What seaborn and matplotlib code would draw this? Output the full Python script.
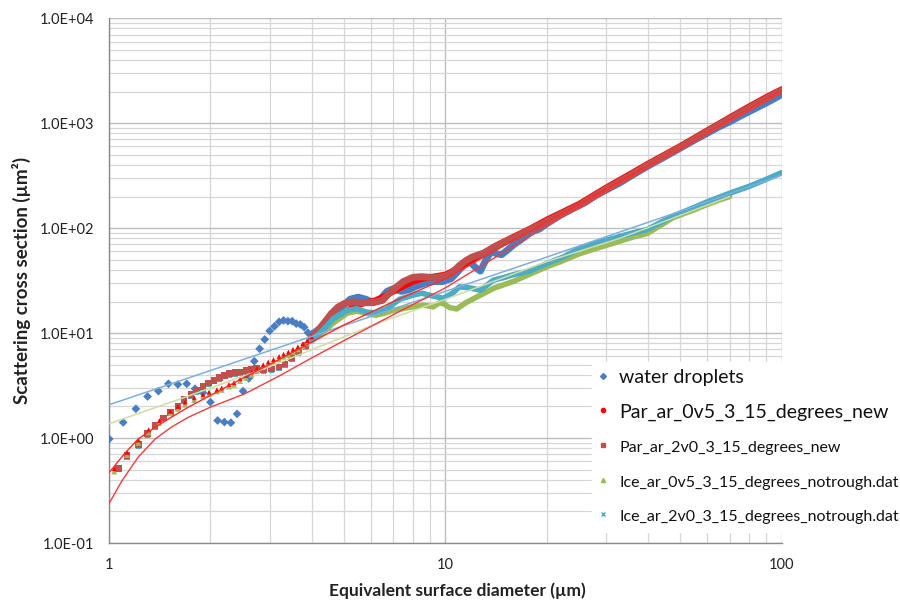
import matplotlib
matplotlib.use("Agg")
import matplotlib.pyplot as plt
import seaborn as sns
from matplotlib.ticker import FuncFormatter, LogLocator, NullFormatter
from matplotlib.lines import Line2D

# ---- data (x in um, y in um^2) ----
# discrete markers, small sizes
water_x = [1.0, 1.1, 1.2, 1.3, 1.4, 1.5, 1.6, 1.7, 1.8, 1.9, 2.0, 2.1, 2.2, 2.3, 2.4, 2.5,
           2.6, 2.7, 2.8, 2.9, 3.0, 3.1, 3.2, 3.3, 3.4, 3.5, 3.6, 3.7, 3.8, 3.9, 4.0]
water_y = [0.98, 1.41, 1.9, 2.49, 2.8, 3.29, 3.24, 3.29, 2.95, 2.7, 2.2, 1.47, 1.42, 1.4, 1.7, 2.8,
           3.7, 5.4, 7.1, 8.7, 10.5, 11.6, 12.8, 13.2, 13.0, 13.0, 12.3, 12.1, 11.4, 10.1, 9.7]

par05_x = [1.035, 1.13, 1.22, 1.31, 1.41, 1.52, 1.6, 1.68, 1.79, 1.9, 1.98, 2.09, 2.16, 2.27, 2.35,
           2.45, 2.55, 2.65, 2.75, 2.87, 2.97, 3.08, 3.2, 3.3, 3.41, 3.52, 3.64, 3.76, 3.88, 4.0]
par05_y = [0.51, 0.73, 0.96, 1.2, 1.47, 1.8, 2.0, 2.2, 2.42, 2.6, 2.74, 2.88, 3.0, 3.24, 3.37,
           3.68, 3.95, 4.25, 4.6, 5.0, 5.3, 5.6, 6.0, 6.3, 6.6, 7.0, 7.4, 7.9, 8.5, 9.2]
ice05_y = [0.48, 0.69, 0.9, 1.13, 1.4, 1.72, 1.9, 2.08, 2.3, 2.5, 2.62, 2.78, 2.88, 3.1, 3.22,
           3.5, 3.75, 4.0, 4.35, 4.75, 5.0, 5.3, 5.65, 5.95, 6.2, 6.6, 7.0, 7.5, 8.0, 8.5]

par20_x = [1.064, 1.13, 1.22, 1.3, 1.37, 1.45, 1.52, 1.6, 1.67, 1.75, 1.82, 1.9, 1.97, 2.05, 2.13,
           2.2, 2.28, 2.37, 2.45, 2.55, 2.64, 2.74, 2.88, 3.04, 3.2, 3.33, 3.49, 3.65, 3.84, 4.0]
par20_y = [0.51, 0.68, 0.87, 1.1, 1.32, 1.55, 1.76, 2.0, 2.32, 2.6, 2.84, 3.1, 3.34, 3.55, 3.76,
           3.95, 4.1, 4.2, 4.25, 4.4, 4.5, 4.58, 4.45, 4.55, 4.75, 5.1, 5.85, 6.6, 7.65, 8.86]
ice20_y = [0.5, 0.66, 0.84, 1.07, 1.28, 1.5, 1.72, 1.96, 2.25, 2.5, 2.75, 3.0, 3.25, 3.45, 3.65,
           3.85, 4.0, 4.1, 4.15, 4.25, 4.35, 4.4, 4.3, 4.4, 4.6, 4.95, 5.7, 6.5, 7.4, 8.5]

# dense parts (markers merge into a band)
water_band_x = [4.0, 4.3, 4.6, 4.9, 5.2, 5.5, 5.8, 6.1, 6.4, 6.7, 7.0, 7.4, 7.8, 8.2, 8.7, 9.2, 9.8,
                10.4, 11.0, 11.5, 11.9, 12.3, 12.7, 13.2, 13.7, 14.2, 14.7, 15.3, 16, 17, 18, 19, 20,
                22, 24, 26, 28, 30, 33, 36, 40, 45, 50, 55, 60, 65, 70, 75, 80, 85, 90, 95, 100]
water_band_y = [9.7, 11.5, 14, 17.5, 21, 22, 21, 19.5, 21, 25, 26.5, 25, 26, 28, 30, 31, 31,
                33, 40, 46, 47, 42, 39, 50, 60, 57, 56, 62, 70, 80, 92, 98, 110,
                133, 155, 175, 205, 230, 270, 320, 390, 480, 580, 690, 800, 920, 1030, 1160, 1290,
                1420, 1560, 1710, 1880]

par05_band_x = [4.0, 4.3, 4.6, 5.0, 5.4, 5.8, 6.2, 6.6, 7.0, 7.5, 8.0, 8.5, 9.0, 9.5, 10, 11, 12,
                13, 14, 15, 16, 18, 20, 25, 30, 35, 40, 50, 60, 70, 80, 90, 100]
par05_band_y = [9.2, 10.9, 12.8, 15.5, 18.3, 19.5, 20.5, 22.5, 25, 28, 31, 33, 34, 35, 36, 42, 50,
                58, 67, 75, 83, 100, 120, 170, 242, 320, 410, 605, 850, 1130, 1440, 1770, 2100]

par20_band_x = [4.0, 4.18, 4.38, 4.58, 4.79, 5.0, 5.3, 5.6, 5.9, 6.2, 6.5, 6.8, 7.1, 7.5, 8.0, 8.5,
                9.0, 9.5, 10, 10.5, 11, 11.5, 12, 13, 14, 15, 16, 18, 20, 25, 30, 35, 40, 50, 60,
                70, 80, 90, 100]
par20_band_y = [8.86, 10.6, 12.8, 15.4, 17.7, 19.1, 19.8, 19.5, 19.5, 19.8, 20.5, 24, 27, 31, 34,
                34.5, 34, 34, 35, 38, 44, 49, 53, 58, 66, 74, 81, 98, 116, 165, 235, 310, 400, 590,
                830, 1100, 1400, 1720, 2050]

ice05_band_x = [4.0, 4.3, 4.64, 5.1, 5.45, 5.8, 6.2, 6.6, 7.0, 7.5, 8.0, 8.6, 9.2, 9.6, 9.85, 10.3,
                10.8, 11.5, 12.7, 14, 15.9, 18, 20, 22, 25, 28, 31.6, 36, 39.8, 44, 47.5, 55, 60,
                65, 70]
ice05_band_y = [8.5, 10, 12.5, 15.5, 16.2, 15.5, 14.8, 15.5, 16.5, 17.2, 17.8, 18.5, 17.8, 19.5,
                19.1, 17.5, 17, 19.5, 23, 27, 31, 37, 42.8, 48, 57, 64, 72, 82, 89, 108, 126, 150,
                168, 185, 200]

ice20_band_x = [4.0, 4.3, 4.64, 5.1, 5.45, 5.8, 6.2, 6.7, 7.3, 8.0, 8.5, 9.2, 9.85, 10.5, 11, 11.8,
                12.7, 13.9, 15, 15.9, 17.8, 20, 22.4, 25, 28, 31.6, 36, 39.8, 44, 47.5, 55, 60, 70,
                80, 90, 100]
ice20_band_y = [8.5, 10.5, 13.7, 16.5, 17.1, 15.9, 15.5, 17.1, 21, 23, 24, 22.5, 21.5, 24, 27.6,
                27, 25.6, 32, 34, 36, 39, 46, 53, 64, 72, 80, 90, 97, 115, 130, 158, 178, 215, 250,
                292, 338]

# trend lines
trend_blue_x = [1, 2, 4, 10, 20, 50, 100]
trend_blue_y = [2.08, 4.4, 9.3, 25, 53, 145, 320]
trend_khaki_x = [1, 1.68, 3, 6.4, 10, 20, 33, 70]
trend_khaki_y = [1.37, 2.45, 4.8, 12.7, 21, 48, 80, 200]
trend_red1_x = [1.0, 1.11, 1.22, 1.37, 1.53, 1.72, 2.0, 2.53, 3.2, 4.0, 5, 7, 10, 20, 50, 100]
trend_red1_y = [0.47, 0.71, 0.98, 1.27, 1.58, 1.97, 2.55, 3.81, 5.6, 8.2, 12, 20, 33, 115, 580, 2050]
trend_red2_x = [1.0, 1.09, 1.22, 1.37, 1.53, 1.72, 2.0, 2.53, 3.2, 4.0, 5, 7, 10, 20, 50, 100]
trend_red2_y = [0.24, 0.39, 0.66, 0.98, 1.27, 1.58, 1.97, 2.64, 3.9, 5.8, 8.5, 15, 27, 105, 580, 2000]

labels = ["water droplets", "Par_ar_0v5_3_15_degrees_new", "Par_ar_2v0_3_15_degrees_new",
          "Ice_ar_0v5_3_15_degrees_notrough.dat", "Ice_ar_2v0_3_15_degrees_notrough.dat"]

BLUE, RED, BROWN, GREEN, CYAN = "#4A7EC2", "#FF0000", "#C0504D", "#9BBB59", "#4BACC6"

sns.set_style("white")
plt.rcParams['font.family'] = ['Lato', 'DejaVu Sans']

fig = plt.figure(figsize=(9, 6.01), dpi=100)
ax = fig.add_axes([0.1214, 0.0965, 0.7471, 0.8731])
ax.set_xscale('log')
ax.set_yscale('log')

# bands
sns.lineplot(x=water_band_x, y=water_band_y, color=BLUE, lw=5.0, sort=False, estimator=None, ax=ax, zorder=3)
sns.lineplot(x=par05_band_x, y=par05_band_y, color=RED, lw=4.5, sort=False, estimator=None, ax=ax, zorder=4)
sns.lineplot(x=par20_band_x, y=par20_band_y, color=BROWN, lw=5.0, sort=False, estimator=None, ax=ax, zorder=5)
sns.lineplot(x=ice05_band_x, y=ice05_band_y, color=GREEN, lw=4.0, sort=False, estimator=None, ax=ax, zorder=6)
sns.lineplot(x=ice20_band_x, y=ice20_band_y, color=CYAN, lw=4.0, sort=False, estimator=None, ax=ax, zorder=7)

# discrete markers
sns.scatterplot(x=water_x, y=water_y, color=BLUE, marker='D', s=20, edgecolor='none', ax=ax, zorder=3)
sns.scatterplot(x=par20_x, y=par20_y, color=BROWN, marker='s', s=22, edgecolor='none', ax=ax, zorder=5)
sns.scatterplot(x=par20_x, y=ice20_y, color=CYAN, marker='s', s=16, edgecolor='none', ax=ax, zorder=4.5)
sns.scatterplot(x=par05_x, y=ice05_y, color=GREEN, marker='^', s=18, edgecolor='none', ax=ax, zorder=6)
sns.scatterplot(x=par05_x, y=par05_y, color=RED, marker='^', s=12, edgecolor='none', ax=ax, zorder=7)

# trend lines
sns.lineplot(x=trend_blue_x, y=trend_blue_y, color="#7FAEDD", lw=1.1, sort=False, estimator=None, ax=ax, zorder=8)
sns.lineplot(x=trend_khaki_x, y=trend_khaki_y, color="#CFDDA8", lw=1.1, sort=False, estimator=None, ax=ax, zorder=8)
sns.lineplot(x=trend_red1_x, y=trend_red1_y, color="#FF2A2A", lw=1.0, sort=False, estimator=None, ax=ax, zorder=8)
sns.lineplot(x=trend_red2_x, y=trend_red2_y, color="#F03C3C", lw=1.0, sort=False, estimator=None, ax=ax, zorder=8)

ax.set_xlim(1, 100)
ax.set_ylim(0.1, 1e4)
ax.xaxis.set_major_locator(LogLocator(base=10))
ax.xaxis.set_minor_locator(LogLocator(base=10, subs=range(2, 10)))
ax.yaxis.set_major_locator(LogLocator(base=10))
ax.yaxis.set_minor_locator(LogLocator(base=10, subs=range(2, 10)))
ax.xaxis.set_major_formatter(FuncFormatter(lambda v, p: f"{v:g}"))
ax.yaxis.set_major_formatter(FuncFormatter(lambda v, p: f"{v:.1E}"))
ax.xaxis.set_minor_formatter(NullFormatter())
ax.yaxis.set_minor_formatter(NullFormatter())

ax.grid(which='major', color='#BDBDBD', lw=1.0)
ax.grid(which='minor', color='#D6D6D6', lw=0.9)
ax.set_axisbelow(True)
for s in ['top', 'right']:
    ax.spines[s].set_visible(False)
for s in ['left', 'bottom']:
    ax.spines[s].set_color('#8C8C8C')
    ax.spines[s].set_linewidth(1.0)
ax.tick_params(which='major', length=5, color='#8C8C8C', labelsize=10.5, labelcolor='#222222', pad=6)
ax.tick_params(which='minor', length=0)

ax.set_xlabel("Equivalent surface diameter (µm)", fontsize=12.5, fontweight='bold', color='#222222')
ax.set_ylabel("Scattering cross section (µm²)", fontsize=13.5, fontweight='bold', color='#222222')
ax.xaxis.set_label_coords(0.517, -0.09)
ax.xaxis.label.set_va('center')
ax.yaxis.set_label_coords(-0.13, 0.50)
ax.yaxis.label.set_va('center')

handles = [Line2D([], [], ls='none', marker='D', ms=3, color=BLUE),
           Line2D([], [], ls='none', marker='o', ms=3, color=RED),
           Line2D([], [], ls='none', marker='s', ms=3, color=BROWN),
           Line2D([], [], ls='none', marker='^', ms=3, color=GREEN),
           Line2D([], [], ls='none', marker='x', ms=3, mew=1, color=CYAN)]
leg = ax.legend(handles, labels, loc='upper left', bbox_to_anchor=(592 / 900, 1 - 362 / 601),
                bbox_transform=fig.transFigure, frameon=True, fancybox=False, framealpha=1,
                edgecolor='white', facecolor='white', fontsize=11.5, labelspacing=1.05,
                handlelength=0.6, handleheight=1.35, handletextpad=0.7, borderpad=0.4,
                borderaxespad=0)
for t, fs in zip(leg.get_texts(), [14, 14, 11.5, 11.5, 11.5]):
    t.set_fontsize(fs)
    t.set_color('#111111')
leg.set_zorder(20)

fig.savefig("out.png", dpi=100)
